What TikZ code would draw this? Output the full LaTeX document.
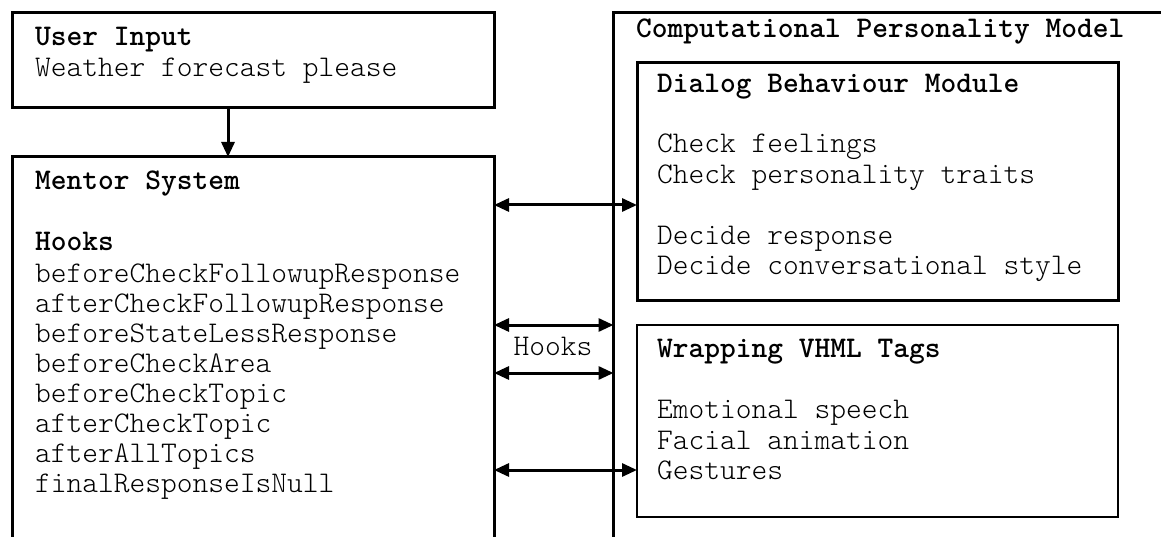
\documentclass[tikz,border=0pt]{standalone}
\usetikzlibrary{arrows.meta}

\begin{document}
\begin{tikzpicture}[x=1pt,y=-1pt,
  box/.style={draw, line width=3pt, outer sep=0pt, inner sep=0pt, anchor=north west},
  thinbox/.style={box, line width=2pt},
  txt/.style={anchor=base west, inner sep=0pt,
    font=\ttfamily\fontseries{l}\fontsize{30}{30}\selectfont},
  hd/.style={txt, font=\ttfamily\bfseries\fontsize{30}{30}\selectfont},
  tip/.tip={Triangle[length=15pt,width=13pt]},
  link/.style={line width=3pt, -tip},
  dlink/.style={line width=3pt, tip-tip},
]
\useasboundingbox (0,0) rectangle (1161,537);
\clip (0,0) rectangle (1161,537);

% frames (the two large ones run off the lower / right edge)
\node[box, minimum width=482pt, minimum height=95pt]  (ui)   at (12,13)    {};
\node[box, minimum width=482pt, minimum height=500pt] (ms)   at (12,157)   {};
\node[box, minimum width=700pt, minimum height=600pt] (cpm)  at (613.5,13) {};
\node[box, minimum width=481pt, minimum height=237pt] (dbm)  at (637,63)   {};
\node[thinbox, minimum width=481pt, minimum height=192pt] (vhml) at (637,325) {};

% user input
\node[hd]  (uiT) at (35,46) {User Input};
\node[txt] (uiL) at (35,77) {Weather forecast please};

% mentor system and its hooks
\node[hd] (msT) at (35,190) {Mentor System};
\node[hd] (msH) at (35,251) {Hooks};
\foreach \h [count=\i from 0] in {beforeCheckFollowupResponse,afterCheckFollowupResponse,
    beforeStateLessResponse,beforeCheckArea,beforeCheckTopic,afterCheckTopic,
    afterAllTopics,finalResponseIsNull}
  \node[txt] (hk\i) at (35,282+30*\i) {\h};

% personality model
\node[hd] (cpmT) at (636,38) {Computational Personality Model};

\node[hd]  (dbmT) at (657,93)  {Dialog Behaviour Module};
\node[txt] (dbm1) at (657,153) {Check feelings};
\node[txt] (dbm2) at (657,184) {Check personality traits};
\node[txt] (dbm3) at (657,244) {Decide response};
\node[txt] (dbm4) at (657,275) {Decide conversational style};

\node[hd]  (vhT) at (657,357) {Wrapping VHML Tags};
\node[txt] (vh1) at (657,418) {Emotional speech};
\node[txt] (vh2) at (657,449) {Facial animation};
\node[txt] (vh3) at (657,479) {Gestures};

% connectors
\coordinate (ax) at (228,0);
\coordinate (y1) at (0,205);
\coordinate (y2) at (0,325);
\coordinate (y3) at (0,373);
\coordinate (y4) at (0,470);

\draw[link]  (ui.south -| ax) -- (ms.north -| ax);
\draw[dlink] (ms.east |- y1) -- (dbm.west |- y1);
\draw[dlink] (ms.east |- y2) -- (cpm.west |- y2);
\draw[dlink] (ms.east |- y3) -- (cpm.west |- y3);
\draw[dlink] (ms.east |- y4) -- (vhml.west |- y4);

\node[txt, anchor=base] (hkL) at (553,355) {Hooks};
\end{tikzpicture}
\end{document}
